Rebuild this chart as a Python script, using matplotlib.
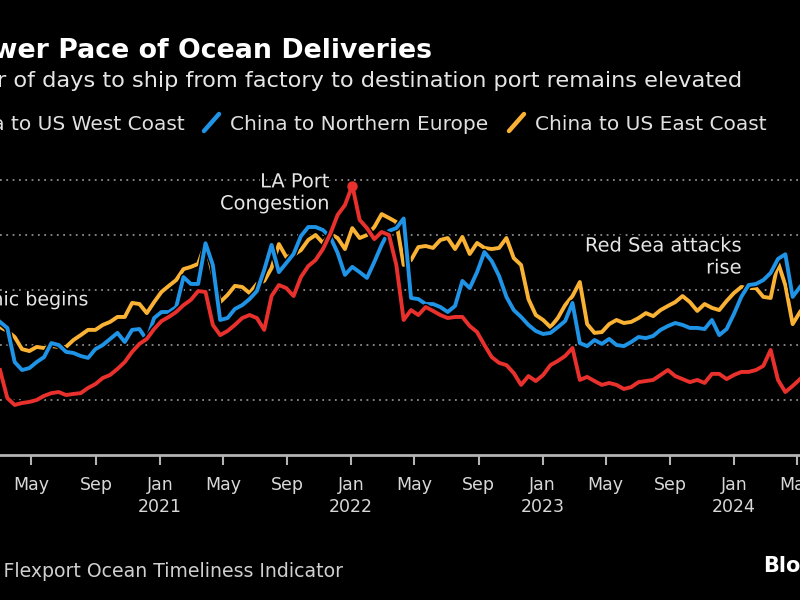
import numpy as np
import pandas as pd
import matplotlib
matplotlib.use("Agg")
import matplotlib.pyplot as plt
import matplotlib.dates as mdates
import matplotlib.patheffects as pe
from matplotlib.lines import Line2D
from matplotlib.ticker import FuncFormatter

plt.rcParams["font.family"] = ["DejaVu Sans"]

# ---- data: days from factory to destination port, biweekly readings ----
dates = pd.date_range("2020-03-02", periods=110, freq="14D")

west = [
    50.9, 40.7, 38.2, 38.9, 39.3, 40.0, 41.5, 42.5, 42.9, 41.8,
    42.2, 42.5, 44.4, 45.8, 48.0, 49.1, 51.3, 53.8, 57.5, 60.4,
    62.2, 65.8, 68.7, 70.2, 72.0, 74.5, 76.4, 79.6, 79.3, 67.3,
    63.6, 65.1, 67.3, 69.8, 70.9, 69.8, 65.5, 77.8, 81.8, 80.7,
    77.8, 84.7, 88.7, 90.9, 94.9, 100.4, 107.3, 110.9, 118.0, 105.5,
    102.5, 98.5, 101.1, 100.0, 89.1, 69.1, 72.7, 70.9, 73.8, 72.4,
    70.9, 69.8, 70.2, 70.2, 66.9, 64.7, 60.0, 55.6, 53.5, 52.7,
    49.8, 45.5, 48.7, 46.9, 49.1, 52.7, 54.2, 56.0, 58.9, 47.3,
    48.4, 46.9, 45.5, 46.2, 45.5, 44.0, 44.7, 46.5, 46.9, 47.3,
    49.1, 50.9, 48.7, 47.6, 46.5, 47.3, 46.2, 49.5, 49.5, 47.6,
    49.1, 50.2, 50.2, 50.9, 52.4, 58.2, 47.3, 42.9, 45.1, 47.6,
]

north = [
    68.4, 66.2, 53.8, 50.9, 51.6, 53.8, 55.6, 60.7, 60.0, 57.5,
    57.1, 56.0, 55.3, 58.5, 60.0, 62.2, 64.4, 61.1, 65.5, 65.8,
    61.8, 69.8, 72.0, 72.0, 73.8, 84.7, 82.2, 82.2, 97.0, 89.1,
    69.1, 69.8, 73.1, 74.5, 76.7, 79.6, 87.3, 96.4, 86.5, 89.8,
    93.1, 99.6, 102.9, 102.9, 101.8, 99.3, 93.5, 85.5, 88.4, 86.5,
    84.4, 90.2, 96.4, 101.5, 102.5, 106.0, 77.1, 76.7, 74.9, 74.9,
    73.8, 72.0, 74.2, 83.3, 80.7, 86.5, 93.8, 90.5, 85.1, 77.5,
    72.7, 70.2, 67.3, 65.1, 64.0, 64.4, 66.5, 68.7, 75.3, 60.7,
    59.6, 61.8, 60.4, 62.2, 60.0, 59.6, 61.1, 62.9, 62.5, 63.3,
    65.5, 66.9, 68.0, 67.3, 66.2, 66.2, 65.8, 69.1, 63.6, 65.8,
    71.3, 77.5, 81.8, 82.2, 83.6, 86.2, 91.3, 93.0, 77.5, 81.1,
]

east = [
    66.5, 65.1, 62.9, 58.5, 57.8, 59.3, 58.9, 59.6, 59.3, 59.3,
    61.8, 63.6, 65.5, 65.5, 67.3, 68.4, 70.2, 70.2, 75.3, 74.9,
    71.6, 75.6, 79.3, 81.5, 83.6, 87.6, 88.4, 89.5, 97.0, 85.5,
    75.6, 78.2, 81.5, 81.1, 78.9, 82.2, 83.3, 88.0, 96.7, 92.0,
    92.7, 94.5, 98.2, 100.0, 97.1, 100.4, 98.9, 94.9, 102.5, 98.9,
    100.0, 102.9, 107.6, 106.2, 104.7, 89.1, 90.9, 95.6, 96.0, 95.3,
    98.2, 98.9, 94.9, 99.3, 93.1, 97.1, 95.3, 94.9, 95.3, 98.9,
    91.6, 89.1, 76.7, 70.9, 69.1, 66.5, 69.8, 74.5, 77.8, 82.9,
    67.6, 64.4, 64.7, 67.6, 69.1, 68.0, 68.4, 69.8, 71.6, 70.5,
    72.7, 74.2, 75.6, 77.8, 75.6, 72.4, 74.9, 73.5, 72.7, 76.0,
    78.9, 81.1, 80.7, 80.7, 77.5, 77.1, 90.0, 81.8, 67.6, 72.0,
]

names = ["China to US West Coast", "China to Northern Europe", "China to US East Coast"]
colors = ["#e8302c", "#1f93e6", "#f9b233"]

notes = [
    ("Pandemic begins", "2020-08-17", 76.4, 13.7),
    ("LA Port\nCongestion", "2021-11-21", 115.3, 14),
    ("Red Sea attacks\nrise", "2024-01-16", 92.0, 14),
]

# ---- figure ----
W, H = 800, 600
fig = plt.figure(figsize=(8, 6), dpi=100, facecolor="black")


def fx(px):
    return px / W


def fy(py):
    return 1 - py / H


ax = fig.add_axes([0, fy(455), 1, (455 - 152.5) / H])
ax.set_facecolor("black")
ax.set_xlim(dates[0], dates[-1])
ax.set_ylim(20, 130)

halo = [pe.Stroke(linewidth=4.8, foreground="black"), pe.Normal()]
for vals, c in [(east, colors[2]), (north, colors[1]), (west, colors[0])]:
    ax.plot(dates, vals, color=c, lw=2.8, solid_joinstyle="round",
            path_effects=halo, clip_on=False, zorder=3)

# dot on the LA congestion peak
i = int(np.argmax(west))
ax.plot(dates[i], west[i], "o", color=colors[0], ms=6.5, zorder=4, clip_on=False)

# ---- grid / axes ----
ax.set_yticks([40, 60, 80, 100, 120])
ax.yaxis.grid(True, color="#8c8c8c", linestyle=(0, (1, 2.5)), linewidth=1.3)
ax.set_axisbelow(True)
ax.tick_params(axis="y", length=0, labelleft=False)

for s in ["top", "left", "right"]:
    ax.spines[s].set_visible(False)
ax.spines["bottom"].set_color("#b4b4b4")
ax.spines["bottom"].set_linewidth(2)


def month_fmt(x, pos=None):
    d = mdates.num2date(x)
    if d.month == 1:
        return f"Jan\n{d.year}"
    return d.strftime("%b")


ax.xaxis.set_major_locator(mdates.MonthLocator(bymonth=[1, 5, 9]))
ax.xaxis.set_major_formatter(FuncFormatter(month_fmt))
ax.tick_params(axis="x", direction="out", length=7, width=1.5, color="#b4b4b4",
               labelcolor="#d8d8d8", labelsize=12.5, pad=8)
for lab in ax.get_xticklabels():
    lab.set_linespacing(1.3)

# ---- annotations ----
txt_halo = [pe.withStroke(linewidth=3, foreground="black")]
for text, d, v, fs in notes:
    ax.text(pd.Timestamp(d), v, text, ha="right", va="center", multialignment="right",
            color="#e6e6e6", fontsize=fs, linespacing=1.2, path_effects=txt_halo, zorder=5)

# ---- header ----
fig.text(fx(432), fy(58), "Slower Pace of Ocean Deliveries", ha="right", va="baseline",
         color="white", fontsize=19.3, fontweight="bold")
fig.text(fx(742), fy(87),
         "Number of days to ship from factory to destination port remains elevated",
         ha="right", va="baseline", color="#e6e6e6", fontsize=16.2)

# legend: slanted swatches + labels
leg_y = fy(130)
t0 = fig.text(fx(185), leg_y, names[0], ha="right", va="baseline", color="#e0e0e0", fontsize=14.5)
t1 = fig.text(fx(230), leg_y, names[1], ha="left", va="baseline", color="#e0e0e0", fontsize=14.5)
t2 = fig.text(fx(535), leg_y, names[2], ha="left", va="baseline", color="#e0e0e0", fontsize=14.5)
fig.canvas.draw()
r = fig.canvas.get_renderer()
for t, c in zip([t0, t1, t2], colors):
    x0 = t.get_window_extent(r).x0
    fig.add_artist(Line2D([fx(x0 - 26), fx(x0 - 11)], [fy(131), fy(114)],
                          color=c, lw=3.2, solid_capstyle="round"))

# ---- footer ----
fig.text(fx(343), fy(577), "Source: Flexport Ocean Timeliness Indicator", ha="right",
         va="baseline", color="#cfcfcf", fontsize=13.6)
fig.text(fx(763), fy(572), "Bloomberg", ha="left", va="baseline", color="white",
         fontsize=15, fontweight="bold")

fig.savefig("out.png", dpi=100, facecolor="black")
